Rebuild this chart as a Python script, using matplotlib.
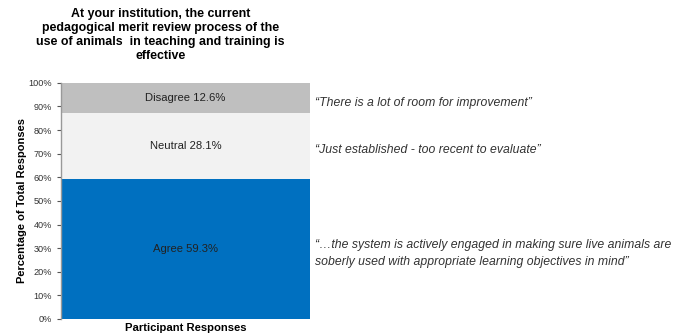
import matplotlib.pyplot as plt
from matplotlib.ticker import PercentFormatter

plt.rcParams['font.family'] = ['Liberation Sans', 'DejaVu Sans']

# stacked response shares, bottom to top
labels = ["Agree", "Neutral", "Disagree"]
shares = [59.3, 28.1, 12.6]
colors = ["#0070C0", "#F2F2F2", "#BFBFBF"]

quotes = [
    "\u201c\u2026the system is actively engaged in making sure live animals are\n"
    "soberly used with appropriate learning objectives in mind\u201d",
    "\u201cJust established - too recent to evaluate\u201d",
    "\u201cThere is a lot of room for improvement\u201d",
]
quote_y = [27.8, 71.6, 91.5]

title = ("At your institution, the current\npedagogical merit review process of the\n"
         "use of animals  in teaching and training is\neffective")

fig = plt.figure(figsize=(6.81, 3.34), dpi=100)
ax = fig.add_axes([0.0896, 0.045, 0.366, 0.707])

bottom = 0
for lab, val, col in zip(labels, shares, colors):
    ax.bar(0, val, bottom=bottom, width=1.0, color=col, edgecolor="none")
    ax.text(0, bottom + val / 2, f"{lab} {val}%", ha="center", va="center",
            fontsize=8.1, color="#222222")
    bottom += val

ax.set_xlim(-0.5, 0.5)
ax.set_ylim(0, 100)
ax.set_yticks(range(0, 101, 10))
ax.yaxis.set_major_formatter(PercentFormatter(decimals=0))
ax.tick_params(axis="y", labelsize=6.6, colors="#555555", length=3, width=0.8,
               labelcolor="#333333")
ax.set_xticks([])
for side in ["top", "right", "bottom"]:
    ax.spines[side].set_visible(False)
ax.spines["left"].set_color("#999999")
ax.spines["left"].set_linewidth(1.0)

ax.set_ylabel("Percentage of Total Responses", fontsize=8, fontweight="bold",
              labelpad=1)
ax.set_xlabel("Participant Responses", fontsize=8.1, fontweight="bold", labelpad=3)

fig.text(0.236, 0.975, title, ha="center", va="top", fontsize=8.9,
         fontweight="bold", linespacing=1.2)

for q, y in zip(quotes, quote_y):
    ax.text(1.02, y / 100, q, transform=ax.transAxes, ha="left", va="center",
            fontsize=8.8, style="italic", color="#333333", linespacing=1.5)

fig.savefig("out.png", dpi=100)
